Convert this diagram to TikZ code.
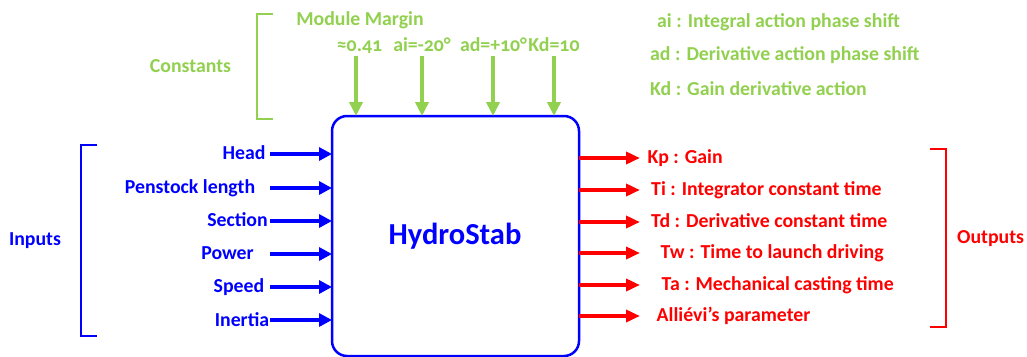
\documentclass[tikz,border=0pt]{standalone}
\usepackage{fontspec}
\setmainfont{Carlito}[Numbers=OldStyle]
\usetikzlibrary{arrows.meta}
\definecolor{cgreen}{RGB}{146,208,80}
\definecolor{cblue}{RGB}{0,0,255}
\definecolor{cred}{RGB}{255,0,0}
\begin{document}
\begin{tikzpicture}[x=1pt,y=-1pt,
  lbl/.style={font=\fontsize{19.8}{22}\selectfont\bfseries, inner sep=0pt, text height=0.64em, text depth=0pt, yshift=-2.5pt},
  inlbl/.style={lbl, text=cblue},
  outlbl/.style={lbl, text=cred, anchor=west},
  cstlbl/.style={lbl, text=cgreen},
  bracket/.style={line width=2pt},
  inarrow/.style={draw=cblue, line width=4pt, -{Triangle[length=13pt,width=13pt]}},
  outarrow/.style={draw=cred, line width=4pt, -{Triangle[length=14pt,width=12pt]}},
  cstarrow/.style={draw=cgreen, line width=4pt, -{Triangle[length=14pt,width=13pt]}}]
\useasboundingbox (0,0) rectangle (1027,356);

% central block
\draw[cblue, line width=2.5pt, rounded corners=15pt] (332,116) rectangle (579,356);
\node[font=\fontsize{30.5}{34}\selectfont\bfseries, text=cblue, inner sep=0pt, text height=0.64em, text depth=0pt] (box) at (455,241) {HydroStab};
\coordinate (boxW) at (332,240);
\coordinate (boxE) at (579,240);
\coordinate (boxN) at (455,116);

% inputs
\node[inlbl] (head)  at (244,154) {Head};
\node[inlbl] (pen)   at (190,188) {Penstock length};
\node[inlbl] (sec)   at (237.5,221) {Section};
\node[inlbl] (pow)   at (227.5,254) {Power};
\node[inlbl] (spd)   at (239,287) {Speed};
\node[inlbl] (inert) at (242,321) {Inertia};
\foreach \y/\n in {154/1,188/2,221/3,254/4,287/5,320/6}{
  \coordinate (in\n) at (270,\y);
  \draw[inarrow] (in\n) -- (in\n -| boxW);
}
\draw[cblue, bracket] (97,145) -- (81,145) -- (81,336) -- (97,336);
\node[inlbl] (inputs) at (35,240) {Inputs};

% outputs
\foreach \y/\n in {158/1,190/2,222/3,253/4,285/5,316/6}{
  \coordinate (out\n) at (640,\y);
  \draw[outarrow] (out\n -| boxE) -- (out\n);
}
\node[outlbl] (kp) at (647.5,158) {Kp : Gain};
\node[outlbl] (ti) at (651,190) {Ti : Integrator constant time};
\node[outlbl] (td) at (651,222) {Td : Derivative constant time};
\node[outlbl] (tw) at (660.5,253) {Tw : Time to launch driving};
\node[outlbl] (ta) at (661.5,285) {Ta : Mechanical casting time};
\node[outlbl] (al) at (656.5,316) {Alliévi’s parameter};
\draw[cred, bracket] (930,149) -- (946,149) -- (946,327) -- (930,327);
\node[lbl, text=cred, anchor=west] (outputs) at (957,238) {Outputs};

% constants
\draw[cgreen, bracket] (273,14) -- (257,14) -- (257,119) -- (273,119);
\node[cstlbl] (const) at (190.5,67) {Constants};
\node[cstlbl] (mm) at (360,20) {Module Margin};
\node[cstlbl] (c1) at (359.5,46) {≈0.41};
\node[cstlbl] (c2) at (422,46) {ai=-20°};
\node[cstlbl] (c3) at (493.5,46) {ad=+10°};
\node[cstlbl] (c4) at (554,46) {Kd=10};
\foreach \x/\n in {356/1,422/2,493/3,554/4}{
  \coordinate (ct\n) at (\x,56);
  \draw[cstarrow] (ct\n) -- (ct\n |- boxN);
}

% legend of the constants
\node[cstlbl, anchor=west] (lai) at (657,22) {ai : Integral action phase shift};
\node[cstlbl, anchor=west] (lad) at (650,55) {ad : Derivative action phase shift};
\node[cstlbl, anchor=west] (lkd) at (650,90) {Kd : Gain derivative action};
\end{tikzpicture}
\end{document}
